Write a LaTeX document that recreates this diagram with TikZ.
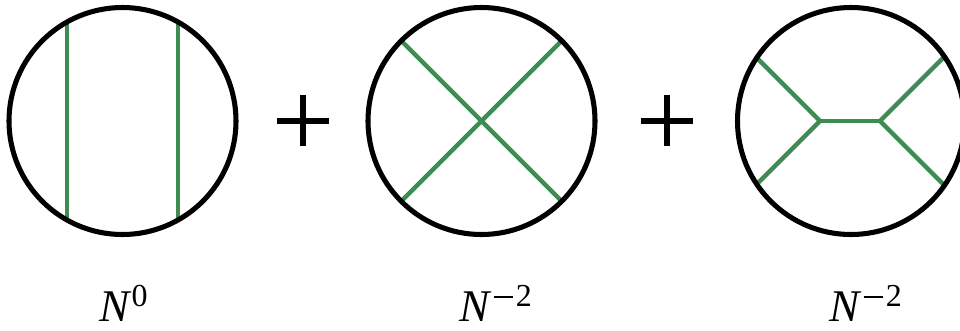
\documentclass[tikz,border=0pt]{standalone}
\usepackage{fontspec}
\setmainfont{Liberation Serif}
\usetikzlibrary{calc}
\definecolor{fgreen}{RGB}{62,140,84}
\tikzset{
  ring/.style={draw=black, line width=3.8pt},
  prop/.style={draw=fgreen, line width=3.4pt},
  plussign/.style={draw=black, line width=4.5pt},
  lbl/.style={anchor=base west, inner sep=0pt, font=\fontsize{34}{40}\selectfont}
}
\newcommand{\supx}[1]{\raisebox{11pt}{\fontsize{24}{28}\selectfont #1}}
\newcommand{\mminus}{\hspace{0.06em}\rule[0.27em]{0.62em}{0.055em}\hspace{0.08em}}
\begin{document}
\begin{tikzpicture}[x=0.75pt, y=-0.75pt]
\useasboundingbox (0,0) rectangle (960,330);
\clip (0,0) rectangle (960,330);
% diagram 1
\coordinate (c1) at (122.5,121);
\coordinate (a1t) at (67,22);
\coordinate (a1b) at (67,220);
\coordinate (a2t) at (178,22);
\coordinate (a2b) at (178,220);
\draw[prop] (a1t) -- (a1b);
\draw[prop] (a2t) -- (a2b);
\draw[ring] (c1) circle (113.5);
% plus 1
\coordinate (p1) at (302.5,121);
\draw[plussign] ($(p1)+(-26,0)$) -- ($(p1)+(26,0)$);
\draw[plussign] ($(p1)+(0,-26)$) -- ($(p1)+(0,25)$);
% diagram 2
\coordinate (c2) at (481.5,121);
\coordinate (x1) at (401.3,40.8);
\coordinate (x2) at (561.7,40.8);
\coordinate (x3) at (401.3,201.2);
\coordinate (x4) at (561.7,201.2);
\draw[prop] (x1) -- (x4);
\draw[prop] (x2) -- (x3);
\draw[ring] (c2) circle (113.5);
% plus 2
\coordinate (p2) at (666.5,121);
\draw[plussign] ($(p2)+(-26,0)$) -- ($(p2)+(26,0)$);
\draw[plussign] ($(p2)+(0,-26)$) -- ($(p2)+(0,25)$);
% diagram 3
\coordinate (c3) at (851,121);
\coordinate (v1) at (820,121);
\coordinate (v2) at (880,121);
\coordinate (l1) at (757,58);
\coordinate (l2) at (757,184);
\coordinate (r1) at (943,58);
\coordinate (r2) at (943,184);
\draw[prop, line join=round] (l1) -- (v1) -- (l2);
\draw[prop, line join=round] (r1) -- (v2) -- (r2);
\draw[prop] (v1) -- (v2);
\draw[ring] (c3) circle (113.5);
% labels
\node[lbl] (n1) at (99,321) {\textit{N}\supx{0}};
\node[lbl] (n2) at (459,321) {\textit{N}\supx{\mminus 2}};
\node[lbl] (n3) at (829,321) {\textit{N}\supx{\mminus 2}};
\end{tikzpicture}
\end{document}
